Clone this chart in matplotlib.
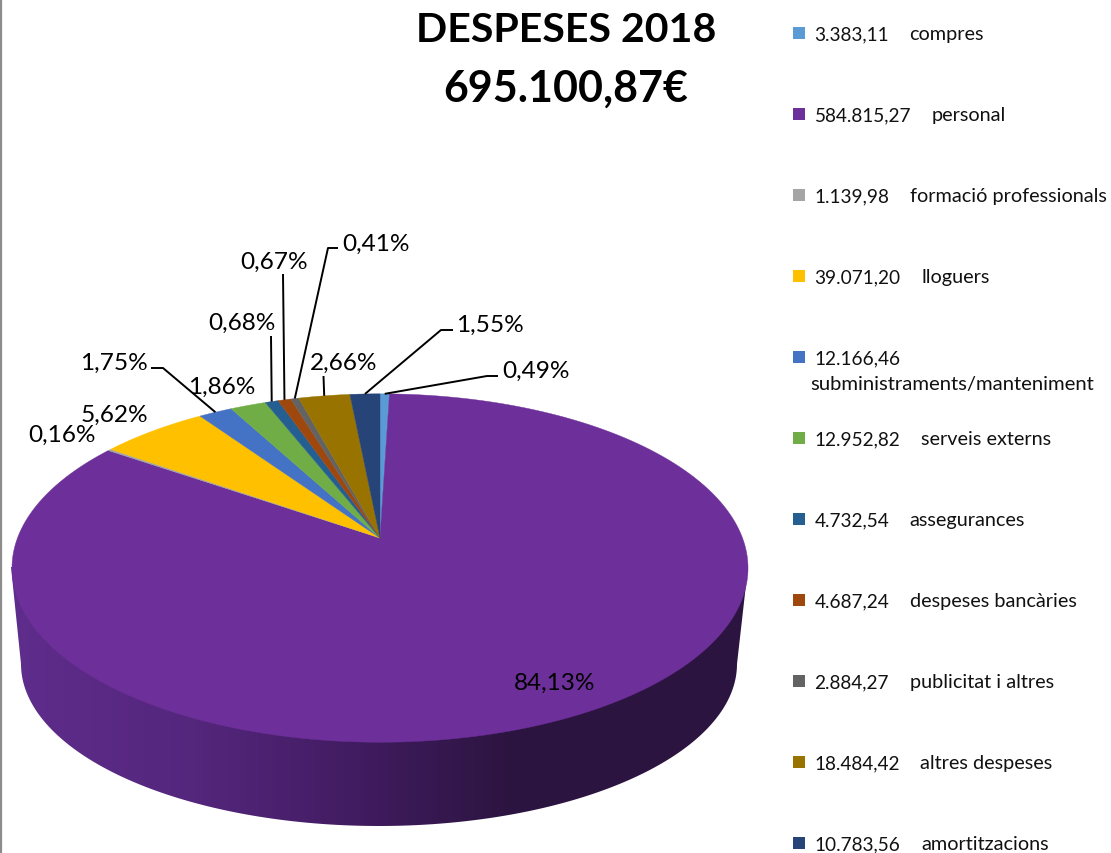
import numpy as np
import matplotlib
matplotlib.use("Agg")
import matplotlib.pyplot as plt
from matplotlib.colors import LinearSegmentedColormap
from matplotlib.patches import Polygon

plt.rcParams['font.family'] = ['Lato', 'DejaVu Sans']

categories = ['compres', 'personal', 'formació professionals', 'lloguers',
              'subministraments/manteniment', 'serveis externs', 'assegurances',
              'despeses bancàries', 'publicitat i altres', 'altres despeses',
              'amortitzacions']
values = [3383.11, 584815.27, 1139.98, 39071.20, 12166.46, 12952.82,
          4732.54, 4687.24, 2884.27, 18484.42, 10783.56]
colors = ['#5B9BD5', '#6D2F99', '#A5A5A5', '#FFC000', '#4472C4', '#70AD47',
          '#255E91', '#9E480E', '#636363', '#997300', '#264478']
title_lines = ['DESPESES 2018', '695.100,87€']

# label centre in pixels, and elbow of the leader line (None = no elbow)
label_pos = [(536, 371), (555, 683), (62, 435), (114, 415), (114, 363), (222, 387),
             (242, 323), (274, 262), (376, 244), (344, 363), (490, 325)]
leader_start = [(498, 377), None, None, None, (151, 369), None,
                (271, 337), (283, 275), (338, 249), (323.5, 377), (453, 331)]
leader_elbow = [(487, 377), None, None, None, (163, 369), None,
                None, None, (328, 249), None, (441, 331)]

CX, CY = 380, 539
K = 0.1724
A = -76.1
C = 362.5


def rim(frac):
    # fraction of the pie clockwise from the top -> screen position, with perspective
    t = np.asarray(frac) * 2 * np.pi
    u, v = np.sin(t), np.cos(t)
    d = 1 + K * v
    return CX + C * u / d, (CY + A * v) / d


def fmt_num(x):
    return f"{x:,.2f}".replace(",", "X").replace(".", ",").replace("X", ".")


fig = plt.figure(figsize=(11.11, 8.54), dpi=100)
ax = fig.add_axes([0, 0, 1, 1])
renderer = fig.canvas.get_renderer()

# side of the pie
s = np.linspace(0, np.pi, 200)
bx = 379 - 358 * np.cos(s)
by = 665 + 162 * np.sin(s)
side = Polygon(np.vstack([[[11, 568]], np.column_stack([bx, by]), [[748, 568]]]),
               closed=True, fc='none', ec='none')
ax.add_patch(side)
shade = LinearSegmentedColormap.from_list('side', [(0, '#5F2D8C'), (0.25, '#54267C'),
                                                   (0.42, '#461E68'), (0.68, '#2C1440'),
                                                   (1, '#2C1440')])
im = ax.imshow(np.linspace(0, 1, 256)[None, :], cmap=shade, extent=(11, 748, 830, 560),
               aspect='auto', zorder=1)
im.set_clip_path(side)

# top of the pie
total = sum(values)
edges = np.concatenate([[0], np.cumsum(values) / total])
for i in range(len(values)):
    fr = np.linspace(edges[i], edges[i + 1], max(3, int((edges[i + 1] - edges[i]) * 720)))
    x, y = rim(fr)
    ax.fill(np.r_[CX, x], np.r_[CY, y], color=colors[i], lw=0.3, zorder=2)

# percent labels and leaders
for i in range(len(values)):
    pct = f"{values[i] / total * 100:.2f}%".replace(".", ",")
    ax.text(label_pos[i][0], label_pos[i][1], pct, ha='center', va='center',
            fontsize=17.6, color='black', zorder=5)
    if leader_start[i] is not None:
        ax_, ay_ = rim((edges[i] + edges[i + 1]) / 2)
        pts = [leader_start[i]]
        if leader_elbow[i] is not None:
            pts.append(leader_elbow[i])
        pts.append((float(ax_), float(ay_)))
        ax.plot([p[0] for p in pts], [p[1] for p in pts], color='black', lw=1.4, zorder=4,
                solid_capstyle='butt')

# title
ax.text(566, 30, title_lines[0], ha='center', va='center', fontsize=29.6, fontweight='bold', color='black')
ax.text(566, 89, title_lines[1], ha='center', va='center', fontsize=31, fontweight='bold', color='black')

# legend
for i in range(len(values)):
    ly = 34 + 81 * i
    ax.add_patch(Polygon([(793, ly - 6), (805, ly - 6), (805, ly + 6), (793, ly + 6)],
                         closed=True, fc=colors[i], ec='none'))
    val = ax.text(814.5, ly + 0.5, fmt_num(values[i]), va='center', fontsize=13.7, color='#111111')
    if categories[i].startswith('subministraments'):
        ax.text(810, ly + 26.5, categories[i], va='center', fontsize=14.6, color='#111111')
    else:
        name_x = 814.5 + val.get_window_extent(renderer).width + 20.5
        ax.text(name_x, ly + 0.5, categories[i], va='center', fontsize=14.3, color='#111111')

# grey rule on the left edge
ax.plot([1, 1], [0, 854], color='#8C8C8C', lw=1.6)

ax.set_xlim(0, 1111)
ax.set_ylim(854, 0)
ax.axis('off')
fig.savefig('out.png', dpi=100)
